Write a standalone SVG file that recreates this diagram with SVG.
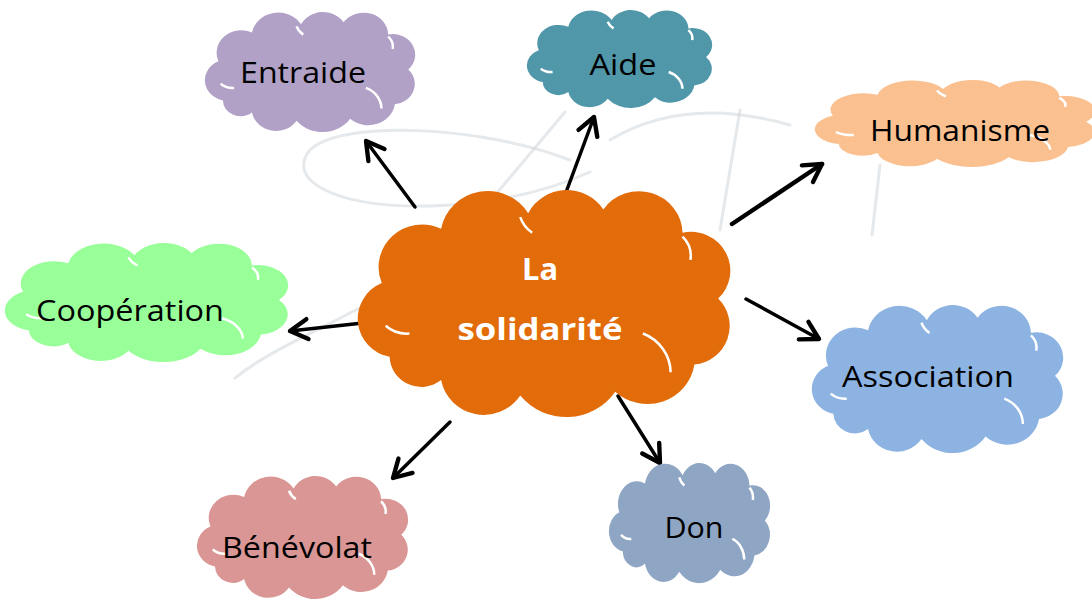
<svg xmlns="http://www.w3.org/2000/svg" xmlns:xlink="http://www.w3.org/1999/xlink" width="1092" height="599" viewBox="0 0 1092 599">
  <style>
    .lbl { font-family: "Open Sans", "Liberation Sans", sans-serif; font-size: 30px; fill: #000; text-anchor: middle; }
    .main { font-family: "Open Sans", "Liberation Sans", sans-serif; font-size: 31px; font-weight: bold; fill: #fff; text-anchor: middle; }
    .arrow { stroke: #000; stroke-width: 3.5; fill: none; stroke-linecap: round; marker-end: url(#head); }
    .wm { stroke: #cdd3da; stroke-width: 3; fill: none; opacity: 0.5; stroke-linecap: round; }
    .notch { fill: none; stroke: #fff; stroke-width: 2.5; }
  </style>
  <defs>
    <marker id="head" markerUnits="userSpaceOnUse" markerWidth="30" markerHeight="30" refX="0" refY="0" viewBox="-16 -12 20 24" orient="auto">
      <path d="M -14,-8 L 0,0 L -14,8" fill="none" stroke="#000" stroke-width="3.5" stroke-linecap="round" stroke-linejoin="round"/>
    </marker>
    <g id="cloudT">
      <path d="M 22,88 A 20 20 0 0 1 18,50 A 22 22 0 0 1 48,22 A 24 24 0 0 1 92,14 A 22 22 0 0 1 130,12 A 22 22 0 0 1 170,24 A 20 20 0 0 1 188,58 A 20 20 0 0 1 176,92 A 24 24 0 0 1 136,106 A 30 30 0 0 1 88,108 A 22 22 0 0 1 48,100 A 16 16 0 0 1 22,88 Z"/>
      <path class="notch" vector-effect="non-scaling-stroke" d="M 150,76 A 22 22 0 0 1 164,96 M 20,72 A 16 16 0 0 0 32,76 M 170,26 A 14 14 0 0 1 174,38 M 88,16 A 16 16 0 0 0 94,24"/>
    </g>
  </defs>

  <g id="watermark">
    <path class="wm" d="M 570,160 C 480,125 340,120 310,150 C 285,180 335,208 430,206 C 500,204 550,190 590,172"/>
    <path class="wm" d="M 470,225 L 565,112"/>
    <path class="wm" d="M 610,140 C 660,110 720,105 790,125"/>
    <path class="wm" d="M 740,110 L 720,230"/>
    <path class="wm" d="M 880,165 L 872,235"/>
    <path class="wm" d="M 235,378 C 270,350 320,330 365,305"/>
  </g>

  <g id="connectors">
    <line class="arrow" x1="415" y1="207" x2="366" y2="141"/>
    <line class="arrow" x1="565" y1="195" x2="594" y2="117"/>
    <line class="arrow" x1="732" y1="224" x2="822" y2="164" style="stroke-width:4.5"/>
    <line class="arrow" x1="372" y1="322" x2="290" y2="331"/>
    <line class="arrow" x1="746" y1="299" x2="819" y2="339"/>
    <line class="arrow" x1="618" y1="396" x2="660" y2="463"/>
    <line class="arrow" x1="450" y1="422" x2="393" y2="478"/>
  </g>

  <g id="node-entraide">
    <use xlink:href="#cloudT" fill="#B2A1C7" transform="translate(198.3,9.95) scale(1.117,1.026)"/>
    <text class="lbl" x="303" y="83" textLength="126" lengthAdjust="spacingAndGlyphs">Entraide</text>
  </g>
  <g id="node-aide">
    <use xlink:href="#cloudT" fill="#5097AA" transform="translate(521.1,8.3) scale(0.984,0.838)"/>
    <text class="lbl" x="623" y="75" textLength="67" lengthAdjust="spacingAndGlyphs">Aide</text>
  </g>
  <g id="node-humanisme">
    <use xlink:href="#cloudT" fill="#FAC090" transform="translate(806.1,78.5) scale(1.489,0.744)"/>
    <text class="lbl" x="960" y="141" textLength="180" lengthAdjust="spacingAndGlyphs">Humanisme</text>
  </g>
  <g id="node-solidarite">
    <use xlink:href="#cloudT" fill="#E36C0A" transform="translate(346.1,186.1) scale(1.979,1.940)"/>
    <text class="main" x="540" y="280" textLength="36" lengthAdjust="spacingAndGlyphs">La</text>
    <text class="main" x="540" y="340" textLength="165" lengthAdjust="spacingAndGlyphs">solidarité</text>
  </g>
  <g id="node-cooperation">
    <use xlink:href="#cloudT" fill="#99FF99" transform="translate(-4,241) scale(1.505,1.017)"/>
    <text class="lbl" x="130" y="321" textLength="188" lengthAdjust="spacingAndGlyphs">Coopération</text>
  </g>
  <g id="node-association">
    <use xlink:href="#cloudT" fill="#8DB3E2" transform="translate(804,302.5) scale(1.335,1.265)"/>
    <text class="lbl" x="928" y="387" textLength="172" lengthAdjust="spacingAndGlyphs">Association</text>
  </g>
  <g id="node-benevolat">
    <use xlink:href="#cloudT" fill="#D99694" transform="translate(190.3,473.9) scale(1.122,1.051)"/>
    <text class="lbl" x="297" y="558" textLength="150" lengthAdjust="spacingAndGlyphs">Bénévolat</text>
  </g>
  <g id="node-don">
    <use xlink:href="#cloudT" fill="#8EA5C3" transform="translate(603.9,461) scale(0.856,1.026)"/>
    <text class="lbl" x="694" y="538" textLength="59" lengthAdjust="spacingAndGlyphs">Don</text>
  </g>
</svg>
